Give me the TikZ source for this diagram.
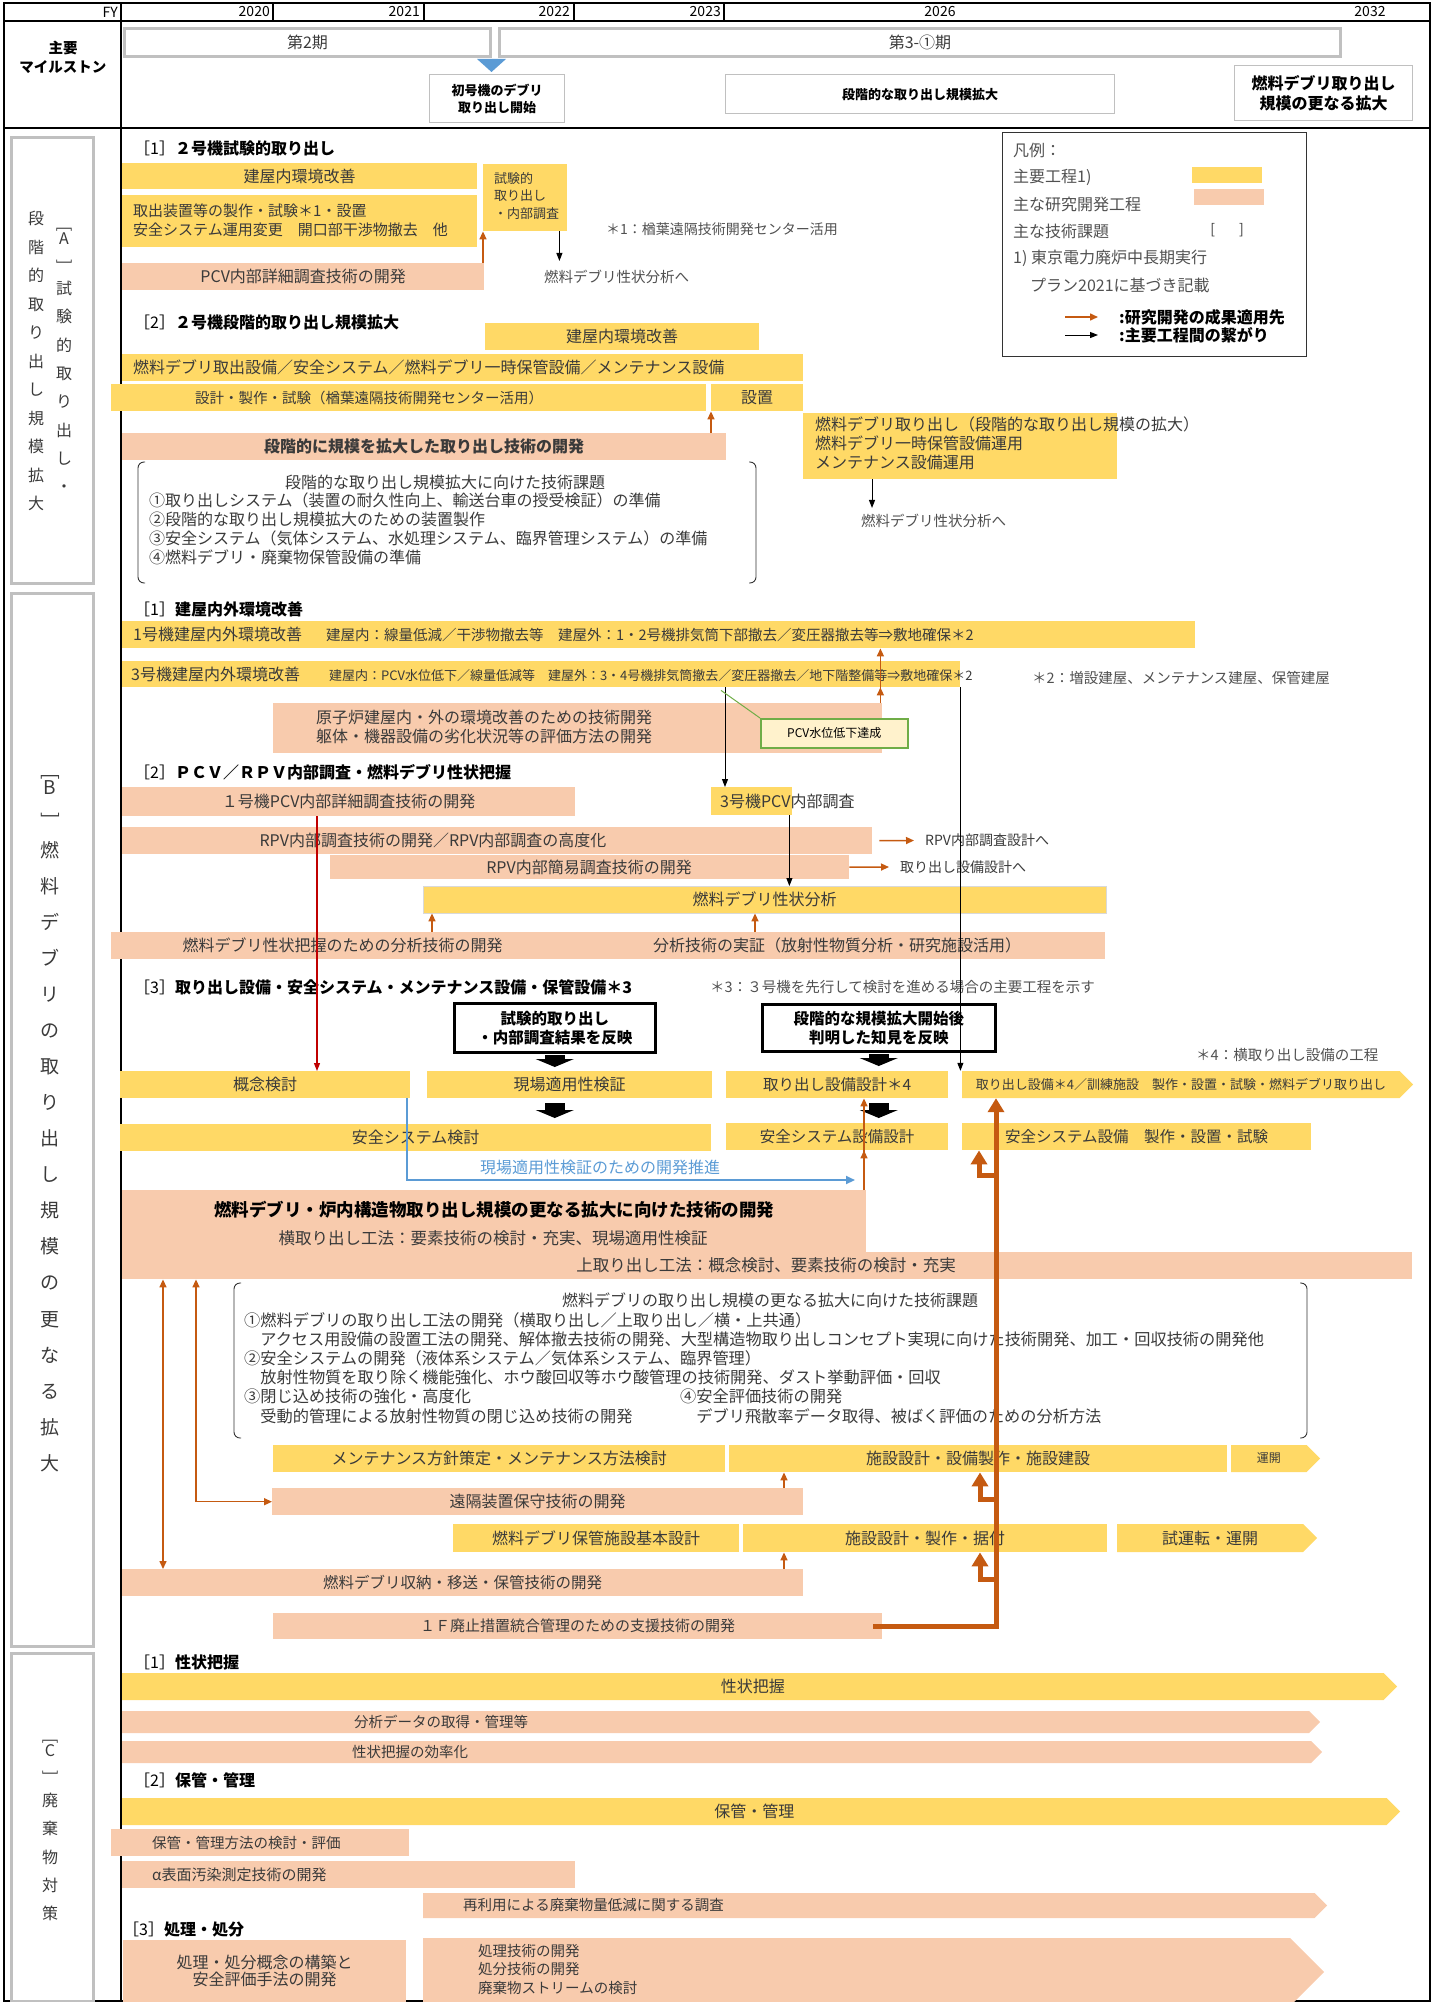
\documentclass[tikz,border=0pt]{standalone}
\usepackage{fontspec}
\usepackage{graphicx}
\setmainfont{Noto Sans CJK JP}
\usetikzlibrary{positioning,arrows.meta,shapes.symbols}

\definecolor{mainyel}{HTML}{FFD966}
\definecolor{rdpeach}{HTML}{F8CBAD}
\definecolor{resorange}{HTML}{C55A11}
\definecolor{msblue}{HTML}{5B9BD5}
\definecolor{boxgray}{HTML}{C0C0C0}
\definecolor{txtgray}{HTML}{3A3A3A}
\definecolor{notegray}{HTML}{505050}
\definecolor{calloutfill}{HTML}{FFF2CC}
\definecolor{calloutgreen}{HTML}{70AD47}
\definecolor{redline}{HTML}{C00000}

\begin{document}
\begin{tikzpicture}[x=1pt, y=-1pt]

	\tikzset{
	f12/.style={font=\fontsize{12}{15}\selectfont},
	f13/.style={font=\fontsize{13}{16}\selectfont},
	f14/.style={font=\fontsize{14}{17}\selectfont},
	f15/.style={font=\fontsize{14.5}{18}\selectfont},
	f16/.style={font=\fontsize{16}{19}\selectfont},
	frame/.style={draw=black, line width=2pt},
	bar/.style={anchor=north west, inner sep=0pt, text=txtgray},
	ybar/.style={bar, fill=mainyel},
	pbar/.style={bar, fill=rdpeach},
	chev/.style={signal, signal to=east, signal from=nowhere, signal pointer angle=90, anchor=west, inner sep=0pt, text=txtgray},
	ychev/.style={chev, fill=mainyel},
	pchev/.style={chev, fill=rdpeach},
	txt/.style={inner sep=0pt, text=txtgray},
	note/.style={anchor=west, inner sep=0pt, text=notegray},
	head/.style={anchor=west, inner sep=0pt, font=\fontsize{16}{19}\selectfont\bfseries},
	side/.style={draw=boxgray, line width=3pt, anchor=north west, inner sep=0pt},
	vtxt/.style={align=center, inner sep=0pt, text=txtgray},
	phase/.style={draw=boxgray, line width=3pt, anchor=north west, inner sep=0pt, text=txtgray, f16},
	msbox/.style={draw=boxgray, line width=1.2pt, anchor=north west, inner sep=0pt, align=center},
	refl/.style={draw=black, line width=2.5pt, fill=white, anchor=north west, inner sep=0pt, align=center, font=\fontsize{15.5}{19}\selectfont\bfseries},
	callout/.style={draw=calloutgreen, line width=1.5pt, fill=calloutfill, anchor=north west, inner sep=0pt, f12},
	brace/.style={draw=black!80, line width=0.9pt, rounded corners=6pt},
	oarrow/.style={draw=resorange, line width=1.5pt, -{Triangle[width=7pt,length=8pt]}},
	oarrowb/.style={draw=resorange, line width=1.5pt, {Triangle[width=7pt,length=8pt]}-{Triangle[width=7pt,length=8pt]}},
	barrow/.style={draw=black, line width=1pt, -{Triangle[width=6pt,length=8pt]}},
	rarrow/.style={draw=redline, line width=1.2pt, -{Triangle[width=6pt,length=8pt]}},
	blarrow/.style={draw=msblue, line width=2pt, -{Triangle[width=8pt,length=9pt]}},
	bigarrow/.style={draw=resorange, line width=5pt, -{Triangle[width=16pt,length=14pt]}},
	blockarrow/.style={draw=black, line width=20pt, -{Triangle[width=38pt,length=8pt]}}
	}

	\useasboundingbox (0,0) rectangle (1435,2002);

	% Frame
	\draw[frame] (4,3) rectangle (1430,2001);
	\draw[frame] (4,21) -- (1430,21);
	\draw[frame] (4,128) -- (1430,128);
	\draw[frame] (121,3) -- (121,2001);
	\draw[frame] (273,3) -- (273,21);
	\draw[frame] (424,3) -- (424,21);
	\draw[frame] (574,3) -- (574,21);
	\draw[frame] (724,3) -- (724,21);

	% Years
	\node[anchor=east, inner sep=0pt, f14] (fy) at (118,12) {FY};
	\node[anchor=east, inner sep=0pt, f14] (y2020) at (270,12) {2020};
	\node[anchor=east, inner sep=0pt, f14] (y2021) at (420,12) {2021};
	\node[anchor=east, inner sep=0pt, f14] (y2022) at (570,12) {2022};
	\node[anchor=east, inner sep=0pt, f14] (y2023) at (721,12) {2023};
	\node[inner sep=0pt, f14] (y2026) at (940,12) {2026};
	\node[inner sep=0pt, f14] (y2032) at (1370,12) {2032};

	% Milestones
	\node[align=center, inner sep=0pt, font=\fontsize{14.5}{19}\selectfont\bfseries] (msl) at (63,57) {主要\\マイルストン};
	\node[phase, minimum width=366, minimum height=28] (ph2) at (123,27) {第2期};
	\node[phase, minimum width=841, minimum height=28] (ph3) at (498,27) {第3-①期};
	\fill[msblue] (477,59) -- (506,59) -- (491.5,72) -- cycle;
	\node[msbox, minimum width=135, minimum height=48, font=\fontsize{13}{17}\selectfont\bfseries] (ms1) at (429,74) {初号機のデブリ\\取り出し開始};
	\node[msbox, minimum width=389, minimum height=39, font=\fontsize{13}{17}\selectfont\bfseries] (ms2) at (725,74) {段階的な取り出し規模拡大};
	\node[msbox, minimum width=178, minimum height=55, font=\fontsize{16}{20}\selectfont\bfseries] (ms3) at (1234,65) {燃料デブリ取り出し\\規模の更なる拡大};

	% Side labels
	\node[side, minimum width=82, minimum height=446] (secA) at (10,136) {};
	\node[side, minimum width=82, minimum height=1053] (secB) at (10,592) {};
	\node[side, minimum width=82, minimum height=348] (secC) at (10,1652) {};
	\node[vtxt, anchor=north, font=\fontsize{16}{28.5}\selectfont] (vA1) at (36,211) {段\\階\\的\\取\\り\\出\\し\\規\\模\\拡\\大};
	\node[vtxt, font=\fontsize{16}{15}\selectfont] (vA2) at (64,246) {\rotatebox{-90}{[}\\A\\\rotatebox{-90}{]}};
	\node[vtxt, anchor=north, font=\fontsize{16}{28.3}\selectfont] (vA3) at (64,281) {試\\験\\的\\取\\り\\出\\し\\・};
	\node[vtxt, font=\fontsize{19}{18}\selectfont] (vB1) at (50,796) {\rotatebox{-90}{[}\\B\\\rotatebox{-90}{]}};
	\node[vtxt, anchor=north, font=\fontsize{19}{36.06}\selectfont] (vB2) at (50,841) {燃\\料\\デ\\ブ\\リ\\の\\取\\り\\出\\し\\規\\模\\の\\更\\な\\る\\拡\\大};
	\node[vtxt, font=\fontsize{16}{14}\selectfont] (vC1) at (50,1757) {\rotatebox{-90}{[}\\C\\\rotatebox{-90}{]}};
	\node[vtxt, anchor=north, font=\fontsize{16}{28.25}\selectfont] (vC2) at (50,1793) {廃\\棄\\物\\対\\策};

	% Legend
	\node[draw=black!80, line width=0.8pt, anchor=north west, minimum width=304, minimum height=224] (legend) at (1002,132) {};
	\node[note, f16] (lg0) at (1013,150) {凡例：};
	\node[note, f16] (lg1) at (1013,177) {主要工程1)};
	\node[note, f16] (lg2) at (1013,204) {主な研究開発工程};
	\node[note, f16] (lg3) at (1013,231) {主な技術課題};
	\node[note, f16] (lg4) at (1013,258) {1) 東京電力廃炉中長期実行};
	\node[note, f16] (lg5) at (1030,285) {プラン2021に基づき記載};
	\node[anchor=west, inner sep=0pt, font=\fontsize{16}{19}\selectfont\bfseries] (lg6) at (1119,317) {:研究開発の成果適用先};
	\node[anchor=west, inner sep=0pt, font=\fontsize{16}{19}\selectfont\bfseries] (lg7) at (1119,335) {:主要工程間の繋がり};
	\fill[mainyel] (1192,167) rectangle (1262,183);
	\fill[rdpeach] (1194,189) rectangle (1264,205);
	\node[txt, f14] (lgb) at (1227,230) {[\hspace{24pt}]};
	\draw[oarrow] ([xshift=-54pt]lg6.west) -- ([xshift=-21pt]lg6.west);
	\draw[barrow] ([xshift=-54pt]lg7.west) -- ([xshift=-21pt]lg7.west);

	% [A] 1
	\node[head] (hA1) at (134,148) {{\mdseries［1］}２号機試験的取り出し};
	\node[ybar, f16, minimum width=355, minimum height=26] (yA1) at (122,163) {建屋内環境改善};
	\node[ybar, minimum width=84, minimum height=67] (yA2) at (483,164) {};
	\node[txt, anchor=west, align=left, font=\fontsize{13}{17.5}\selectfont] (tA2) at (494,196) {試験的\\取り出し\\・内部調査};
	\node[ybar, minimum width=355, minimum height=52] (yA3) at (122,195) {};
	\node[txt, anchor=west, align=left, font=\fontsize{15}{19}\selectfont] (tA3) at (133,220) {取出装置等の製作・試験＊1・設置\\安全システム運用変更　開口部干渉物撤去　他};
	\node[pbar, f16, minimum width=362, minimum height=27] (pA1) at (122,263) {PCV内部詳細調査技術の開発};
	\node[note, f15] (toA1) at (544,277) {燃料デブリ性状分析へ};
	\node[note, f14] (nA1) at (606,229) {＊1：楢葉遠隔技術開発センター活用};

	% [A] 2
	\node[head] (hA2) at (134,322) {{\mdseries［2］}２号機段階的取り出し規模拡大};
	\node[ybar, f16, minimum width=274, minimum height=27] (yA4) at (485,323) {建屋内環境改善};
	\node[ybar, minimum width=681, minimum height=27] (yA5) at (122,354) {};
	\node[txt, anchor=west, f16] (tA5) at (133,367.5) {燃料デブリ取出設備／安全システム／燃料デブリ一時保管設備／メンテナンス設備};
	\node[ybar, minimum width=595, minimum height=27] (yA6) at (111,384) {};
	\node[txt, anchor=west, f15] (tA6) at (195,397.5) {設計・製作・試験（楢葉遠隔技術開発センター活用）};
	\node[ybar, f16, minimum width=92, minimum height=27] (yA7) at (711,384) {設置};
	\node[pbar, minimum width=604, minimum height=27, font=\fontsize{16}{19}\selectfont\bfseries] (pA2) at (122,433) {段階的に規模を拡大した取り出し技術の開発};
	\draw[brace] (145,462) -- (138,462) -- (138,583) -- (145,583);
	\draw[brace] (749,462) -- (756,462) -- (756,583) -- (749,583);
	\node[txt, f16] (tA8) at (445,482) {段階的な取り出し規模拡大に向けた技術課題};
	\node[txt, anchor=north west, align=left, font=\fontsize{16}{19}\selectfont] (tA9) at (149,493) {①取り出しシステム（装置の耐久性向上、輸送台車の授受検証）の準備\\②段階的な取り出し規模拡大のための装置製作\\③安全システム（気体システム、水処理システム、臨界管理システム）の準備\\④燃料デブリ・廃棄物保管設備の準備};
	\node[ybar, minimum width=314, minimum height=66] (yA8) at (803,413) {};
	\node[txt, anchor=north west, align=left, font=\fontsize{16}{19}\selectfont] (tA10) at (815,417) {燃料デブリ取り出し（段階的な取り出し規模の拡大）\\燃料デブリ一時保管設備運用\\メンテナンス設備運用};
	\node[note, f15] (toA2) at (861,521) {燃料デブリ性状分析へ};

	% [B] 1
	\node[head] (hB1) at (134,609) {{\mdseries［1］}建屋内外環境改善};
	\node[ybar, minimum width=1073, minimum height=27] (yB1) at (122,621) {};
	\node[txt, anchor=west] (tB1) at (133,634.5) {{\fontsize{16}{19}\selectfont 1号機建屋内外環境改善}\hspace{24pt}{\fontsize{14.5}{18}\selectfont 建屋内：線量低減／干渉物撤去等　建屋外：1・2号機排気筒下部撤去／変圧器撤去等⇒敷地確保＊2}};
	\node[ybar, minimum width=838, minimum height=26] (yB2) at (122,661) {};
	\node[txt, anchor=west] (tB2) at (131,674) {{\fontsize{16}{19}\selectfont 3号機建屋内外環境改善}\hspace{29pt}{\fontsize{13}{16}\selectfont 建屋内：PCV水位低下／線量低減等　建屋外：3・4号機排気筒撤去／変圧器撤去／地下階整備等⇒敷地確保＊2}};
	\node[note, f15] (nB2) at (1032,678) {＊2：増設建屋、メンテナンス建屋、保管建屋};
	\node[pbar, minimum width=609, minimum height=50] (pB1) at (273,703) {};
	\node[txt, anchor=west, align=left, font=\fontsize{16}{19}\selectfont] (tB1b) at (316,727) {原子炉建屋内・外の環境改善のための技術開発\\躯体・機器設備の劣化状況等の評価方法の開発};
	\node[callout, minimum width=147, minimum height=29] (pcvlow) at (760,718) {PCV水位低下達成};

	% [B] 2
	\node[head] (hB2) at (134,772) {{\mdseries［2］}ＰＣＶ／ＲＰＶ内部調査・燃料デブリ性状把握};
	\node[pbar, f16, minimum width=453, minimum height=29] (pB2) at (122,787) {１号機PCV内部詳細調査技術の開発};
	\node[ybar, minimum width=81, minimum height=28] (yB3) at (711,787) {};
	\node[txt, anchor=west, f16] (tB3) at (720,801) {3号機PCV内部調査};
	\node[pbar, minimum width=750, minimum height=27] (pB3) at (122,827) {};
	\node[txt, f16] (tB3b) at (433,840.5) {RPV内部調査技術の開発／RPV内部調査の高度化};
	\node[pbar, minimum width=519, minimum height=24] (pB4) at (330,855) {};
	\node[txt, f16] (tB4) at (589,867) {RPV内部簡易調査技術の開発};
	\node[note, f14, text=txtgray] (toB3) at (925,840.5) {RPV内部調査設計へ};
	\node[note, f14, text=txtgray] (toB4) at (900,867) {取り出し設備設計へ};
	\node[ybar, f16, draw=black!15, minimum width=683, minimum height=27] (yB4) at (423,886) {燃料デブリ性状分析};
	\node[pbar, minimum width=994, minimum height=27] (pB5) at (111,932) {};
	\node[txt, f16] (tB5a) at (342.5,945.5) {燃料デブリ性状把握のための分析技術の開発};
	\node[txt, f16] (tB5b) at (837,945.5) {分析技術の実証（放射性物質分析・研究施設活用）};

	% [B] 3
	\node[head] (hB3) at (134,987) {{\mdseries［3］}取り出し設備・安全システム・メンテナンス設備・保管設備＊3};
	\node[note, f15] (nB3) at (710,987) {＊3：３号機を先行して検討を進める場合の主要工程を示す};
	\node[refl, minimum width=201, minimum height=49] (refl1) at (453,1002) {試験的取り出し\\・内部調査結果を反映};
	\node[refl, minimum width=233, minimum height=47] (refl2) at (761,1003) {段階的な規模拡大開始後\\判明した知見を反映};
	\node[note, f15] (nB4) at (1196,1055) {＊4：横取り出し設備の工程};
	\node[ybar, f16, minimum width=290, minimum height=27] (yB5) at (120,1071) {概念検討};
	\node[ybar, f16, minimum width=285, minimum height=27] (yB6) at (427,1071) {現場適用性検証};
	\node[ybar, font=\fontsize{15.5}{19}\selectfont, minimum width=222, minimum height=27] (yB7) at (726,1071) {取り出し設備設計＊4};
	\node[ychev, f13, minimum width=451, minimum height=27] (yB8) at (962,1084.5) {取り出し設備＊4／訓練施設　製作・設置・試験・燃料デブリ取り出し};
	\node[ybar, f16, minimum width=591, minimum height=27] (yB9) at (120,1124) {安全システム検討};
	\node[ybar, font=\fontsize{15.5}{19}\selectfont, minimum width=222, minimum height=27] (yB10) at (726,1123) {安全システム設備設計};
	\node[ybar, font=\fontsize{15.5}{19}\selectfont, minimum width=349, minimum height=27] (yB11) at (962,1123) {安全システム設備　製作・設置・試験};
	\coordinate (bluend) at (855,1180);
	\node[txt, anchor=west, f16, text=msblue] (tBlue) at (480,1167) {現場適用性検証のための開発推進};
	\node[pbar, minimum width=744, minimum height=89] (pB6) at (122,1190) {};
	\node[pbar, minimum width=546, minimum height=27] (pB7) at (866,1252) {};
	\node[txt, font=\fontsize{17.5}{21}\selectfont\bfseries, text=black] (tB6a) at (494,1210) {燃料デブリ・炉内構造物取り出し規模の更なる拡大に向けた技術の開発};
	\node[txt, font=\fontsize{16.5}{19}\selectfont] (tB6b) at (493,1238) {横取り出し工法：要素技術の検討・充実、現場適用性検証};
	\node[txt, font=\fontsize{16.5}{19}\selectfont] (tB6c) at (766,1265) {上取り出し工法：概念検討、要素技術の検討・充実};
	\draw[brace] (241,1283) -- (234,1283) -- (234,1438) -- (241,1438);
	\draw[brace] (1300,1283) -- (1307,1283) -- (1307,1438) -- (1300,1438);
	\node[txt, f16] (tB7) at (770,1300) {燃料デブリの取り出し規模の更なる拡大に向けた技術課題};
	\node[txt, anchor=north west, align=left, font=\fontsize{16.2}{19.2}\selectfont] (tB8) at (244,1312) {①燃料デブリの取り出し工法の開発（横取り出し／上取り出し／横・上共通）\\　アクセス用設備の設置工法の開発、解体撤去技術の開発、大型構造物取り出しコンセプト実現に向けた技術開発、加工・回収技術の開発他\\②安全システムの開発（液体系システム／気体系システム、臨界管理）\\　放射性物質を取り除く機能強化、ホウ酸回収等ホウ酸管理の技術開発、ダスト挙動評価・回収\\③閉じ込め技術の強化・高度化\\　受動的管理による放射性物質の閉じ込め技術の開発};
	\node[txt, anchor=north west, align=left, font=\fontsize{16.2}{19.2}\selectfont] (tB9) at (680,1389) {④安全評価技術の開発\\　デブリ飛散率データ取得、被ばく評価のための分析方法};
	\node[ybar, f16, minimum width=452, minimum height=27] (yB12) at (273,1445) {メンテナンス方針策定・メンテナンス方法検討};
	\node[ybar, f16, minimum width=498, minimum height=27] (yB13) at (729,1445) {施設設計・設備製作・施設建設};
	\node[ychev, f12, minimum width=89, minimum height=27] (yB14) at (1231,1458.5) {運開};
	\node[pbar, f16, minimum width=531, minimum height=27] (pB8) at (272,1488) {遠隔装置保守技術の開発};
	\node[ybar, f16, minimum width=286, minimum height=28] (yB15) at (453,1524) {燃料デブリ保管施設基本設計};
	\node[ybar, f16, minimum width=364, minimum height=28] (yB16) at (743,1524) {施設設計・製作・据付};
	\node[ychev, f16, minimum width=200, minimum height=28] (yB17) at (1117,1538) {試運転・運開};
	\node[pbar, font=\fontsize{15.5}{19}\selectfont, minimum width=681, minimum height=27] (pB9) at (122,1569) {燃料デブリ収納・移送・保管技術の開発};
	\node[pbar, font=\fontsize{15}{19}\selectfont, minimum width=609, minimum height=26] (pB10) at (273,1613) {１Ｆ廃止措置統合管理のための支援技術の開発};

	% [C]
	\node[head] (hC1) at (134,1662) {{\mdseries［1］}性状把握};
	\node[ychev, f16, minimum width=1275, minimum height=27] (yC1) at (122,1686.5) {性状把握};
	\node[pchev, minimum width=1198, minimum height=22] (pC1) at (122,1722) {};
	\node[txt, f15] (tC1) at (441,1722) {分析データの取得・管理等};
	\node[pchev, minimum width=1200, minimum height=22] (pC2) at (122,1752) {};
	\node[txt, f15] (tC2) at (410,1752) {性状把握の効率化};
	\node[head] (hC2) at (134,1780) {{\mdseries［2］}保管・管理};
	\node[ychev, f16, minimum width=1278, minimum height=27] (yC2) at (122,1811.5) {保管・管理};
	\node[pbar, minimum width=298, minimum height=27] (pC3) at (111,1829) {};
	\node[txt, anchor=west, f15] (tC3) at (152,1842.5) {保管・管理方法の検討・評価};
	\node[pbar, minimum width=453, minimum height=27] (pC4) at (122,1861) {};
	\node[txt, anchor=west, font=\fontsize{15}{18}\selectfont] (tC4) at (152,1874.5) {α表面汚染測定技術の開発};
	\node[pchev, minimum width=904, minimum height=25] (pC5) at (423,1905.5) {};
	\node[txt, anchor=west, f15] (tC5) at (463,1905.5) {再利用による廃棄物量低減に関する調査};
	\node[head] (hC3) at (123,1929) {{\mdseries［3］}処理・処分};
	\node[pbar, align=center, font=\fontsize{16}{17}\selectfont, minimum width=283, minimum height=62] (pC6) at (123,1940) {処理・処分概念の構築と\\安全評価手法の開発};
	\node[pchev, minimum width=901, minimum height=68] (pC7) at (423,1972) {};
	\node[txt, anchor=west, align=left, font=\fontsize{14.5}{18.5}\selectfont] (tC7) at (478,1969.5) {処理技術の開発\\処分技術の開発\\廃棄物ストリームの検討};

	% Connectors [A]
	\draw[oarrow] (yA2.south west |- pA1.north) -- (yA2.south west);
	\draw[barrow] ([xshift=-8pt]yA2.south east) -- ([xshift=-8pt, yshift=9pt]yA2.south east |- toA1.north);
	\draw[oarrow] (yA7.south west |- pA2.north) -- (yA7.south west);
	\draw[barrow] ([xshift=69pt]yA8.south west) -- ([xshift=69pt, yshift=6pt]yA8.south west |- toA2.north);

	% Connectors [B]
	\draw[oarrow] ([xshift=-2pt]pB1.north east) -- ([xshift=-2pt]pB1.north east |- yB1.south);
	\draw[oarrow] ([xshift=-2pt]pB1.north east) -- ([xshift=-2pt]pB1.north east |- yB2.south);
	\draw[barrow] ([xshift=14pt]yB3.north west |- yB2.south) -- ([xshift=14pt]yB3.north west);
	\draw[draw=calloutgreen, line width=1pt] (pcvlow.north west) -- ([xshift=10pt, yshift=-3pt]yB3.north west |- yB2.south);
	\draw[barrow] (yB2.south east) -- (yB2.south east |- yB8.north);
	\draw[barrow] ([xshift=-3pt]yB3.south east) -- ([xshift=-3pt]yB3.south east |- yB4.north);
	\draw[rarrow] ([xshift=197pt]yB5.north west |- pB2.south) -- ([xshift=197pt]yB5.north west);
	\draw[oarrow] ([xshift=7pt]pB3.east) -- ([xshift=-11pt]toB3.west);
	\draw[oarrow] (pB4.east) -- ([xshift=-11pt]toB4.west);
	\draw[oarrow] ([xshift=9pt]yB4.south west |- pB5.north) -- ([xshift=9pt]yB4.south west);
	\draw[oarrow] ([xshift=332pt]yB4.south west |- pB5.north) -- ([xshift=332pt]yB4.south west);
	\draw[blockarrow] ([yshift=-1.5pt]refl1.south) -- ([yshift=4pt]refl1.south |- yB6.north);
	\draw[blockarrow] ([yshift=-5pt]refl1.south |- yB6.south) -- ([yshift=6pt]refl1.south |- yB9.north);
	\draw[blockarrow] ([yshift=-1.5pt]refl2.south) -- ([yshift=5pt]refl2.south |- yB7.north);
	\draw[blockarrow] ([yshift=-5pt]refl2.south |- yB7.south) -- ([yshift=5pt]refl2.south |- yB10.north);
	\draw[blarrow] ([xshift=-3pt]yB5.south east) |- (bluend);
	\draw[oarrow] ([xshift=138pt]yB7.south west |- pB6.north) -- ([xshift=138pt]yB10.south west);
	\draw[oarrow] ([xshift=138pt]yB7.south west |- pB6.north) -- ([xshift=138pt]yB7.south west);
	\draw[oarrowb] ([xshift=41pt]pB6.south west) -- ([xshift=41pt]pB6.south west |- pB9.north);
	\draw[oarrowb] ([xshift=74pt]pB6.south west) |- (pB8.west);
	\draw[oarrow] ([xshift=55pt]yB13.south west |- pB8.north) -- ([xshift=55pt]yB13.south west);
	\draw[oarrow] ([xshift=41pt]yB16.south west |- pB9.north) -- ([xshift=41pt]yB16.south west);

	% Thick connector
	\coordinate (br1) at (996,1175);
	\coordinate (br2) at (996,1499);
	\coordinate (br3) at (996,1579);
	\draw[bigarrow] ([xshift=-9pt]pB10.east) -| ([xshift=34pt]yB8.west |- yB8.south);
	\draw[bigarrow] (br1) -| ([xshift=17pt]yB11.south west);
	\draw[bigarrow] (br2) -| ([xshift=-16pt]br2 |- yB13.south);
	\draw[bigarrow] (br3) -| ([xshift=-16pt]br3 |- yB16.south);

\end{tikzpicture}
\end{document}
